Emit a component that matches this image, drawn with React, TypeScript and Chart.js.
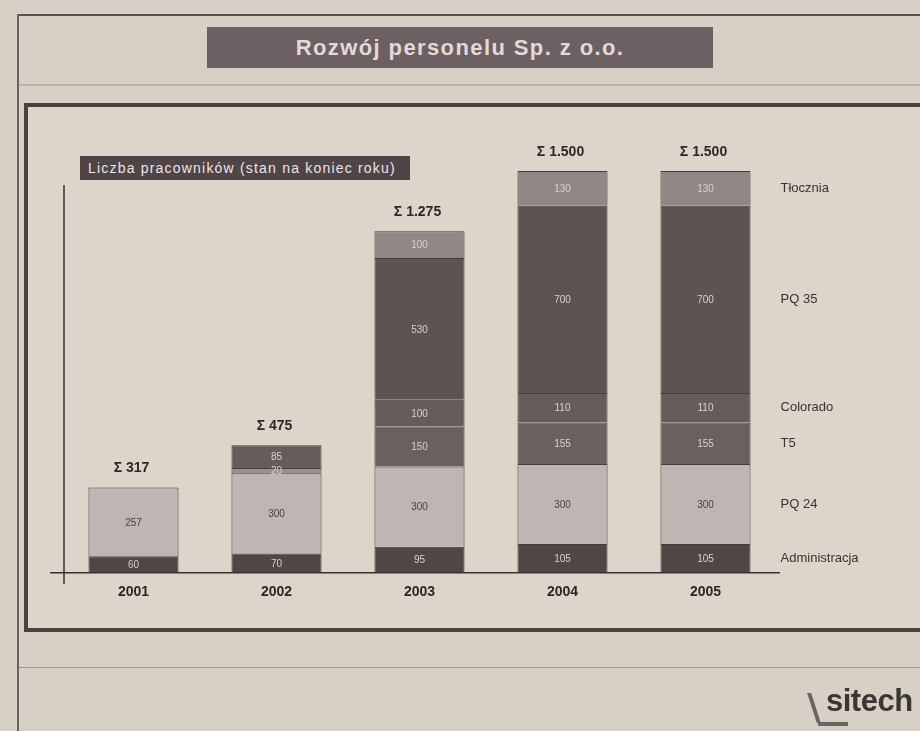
import React, { useEffect, useRef } from "react";
import { Chart, registerables } from "chart.js";

Chart.register(...registerables);

const years = ["2001", "2002", "2003", "2004", "2005"];
const administracja = [60, 70, 95, 105, 105];
const pq24 = [257, 300, 300, 300, 300];
const t5 = [0, 20, 150, 155, 155];
const colorado = [0, 85, 100, 110, 110];
const pq35 = [0, 0, 530, 700, 700];
const tlocznia = [0, 0, 100, 130, 130];

const seriesNames = ["Administracja", "PQ 24", "T5", "Colorado", "PQ 35", "Tłocznia"];

const FONT = "'Liberation Sans', Arial, sans-serif";
const BG = "#d7d1c5";
const INNER = "#dbd5ca";

function fmt(n: number): string {
  const s = String(n);
  return s.length > 3 ? s.slice(0, s.length - 3) + "." + s.slice(-3) : s;
}

const labelPlugin = {
  id: "labels",
  afterDatasetsDraw(chart: any) {
    const ctx = chart.ctx;
    const area = chart.chartArea;
    const ys = chart.scales.y;
    ctx.save();
    // axis lines
    ctx.strokeStyle = "#3a3132";
    ctx.lineWidth = 1.5;
    ctx.beginPath();
    ctx.moveTo(area.left + 2, area.top + 14);
    ctx.lineTo(area.left + 2, area.bottom + 12);
    ctx.moveTo(area.left - 12, area.bottom + 0.5);
    ctx.lineTo(area.right + 3, area.bottom + 0.5);
    ctx.stroke();

    const n = chart.data.labels.length;
    // segment labels
    chart.data.datasets.forEach((ds: any, di: number) => {
      const meta = chart.getDatasetMeta(di);
      meta.data.forEach((bar: any, j: number) => {
        const v = ds.data[j];
        if (!v) return;
        const cy = (bar.y + bar.base) / 2;
        ctx.font = `10px ${FONT}`;
        ctx.textAlign = "center";
        ctx.textBaseline = "middle";
        ctx.fillStyle = di === 1 ? "#4a4041" : "#d9d1d0";
        ctx.fillText(String(v), bar.x, cy + 1);
        if (j === n - 1) {
          ctx.font = `13px ${FONT}`;
          ctx.textAlign = "left";
          ctx.fillStyle = "#3a3132";
          ctx.fillText(ds.label, bar.x + bar.width / 2 + 30, cy);
        }
      });
    });
    // totals
    for (let j = 0; j < n; j++) {
      let total = 0;
      chart.data.datasets.forEach((ds: any) => (total += ds.data[j] || 0));
      const x = chart.getDatasetMeta(0).data[j].x;
      const y = ys.getPixelForValue(total);
      ctx.font = `bold 14px ${FONT}`;
      ctx.textAlign = "center";
      ctx.textBaseline = "middle";
      ctx.fillStyle = "#2e2627";
      ctx.fillText("Σ " + fmt(total), x - 2, y - 19);
    }
    ctx.restore();
  },
};

export default function App() {
  const ref = useRef<HTMLCanvasElement | null>(null);
  useEffect(() => {
    if (!ref.current) return;
    const common = { barPercentage: 0.63, categoryPercentage: 1, borderColor: "#473c3d", borderWidth: 1 };
    const chart = new Chart(ref.current, {
      type: "bar",
      data: {
        labels: years,
        datasets: [
          { label: seriesNames[0], data: administracja, backgroundColor: "#514546", ...common },
          { label: seriesNames[1], data: pq24, backgroundColor: "#beb6b2", ...common },
          { label: seriesNames[2], data: t5, backgroundColor: ["#6c5f60", "#9a908f", "#6c5f60", "#6c5f60", "#6c5f60"], ...common },
          { label: seriesNames[3], data: colorado, backgroundColor: "#685b5c", ...common },
          { label: seriesNames[4], data: pq35, backgroundColor: "#5e5253", ...common },
          { label: seriesNames[5], data: tlocznia, backgroundColor: "#928787", ...common },
        ],
      },
      options: {
        responsive: false,
        animation: false,
        layout: { padding: { left: 62, right: 143, top: 171, bottom: 118 } },
        plugins: { legend: { display: false }, tooltip: { enabled: false } },
        scales: {
          x: {
            stacked: true,
            grid: { display: false, drawTicks: false },
            border: { display: false },
            ticks: { padding: 12, color: "#2e2627", font: { family: FONT, size: 14, weight: "bold" } },
          },
          y: { stacked: true, display: false, min: 0, max: 1500 },
        },
      },
      plugins: [labelPlugin],
    } as any);
    return () => chart.destroy();
  }, []);

  return (
    <div style={{ position: "absolute", left: 0, top: 0, width: 920, height: 731, background: BG, overflow: "hidden", fontFamily: FONT }}>
      {/* outer lines */}
      <div style={{ position: "absolute", left: 18, top: 14, width: 910, height: 0, borderTop: "2px solid #5a5152" }} />
      <div style={{ position: "absolute", left: 17, top: 14, width: 0, height: 720, borderLeft: "2px solid #6a6162" }} />
      <div style={{ position: "absolute", left: 19, top: 84, width: 905, height: 0, borderTop: "2px solid #b9b2a7" }} />
      <div style={{ position: "absolute", left: 19, top: 667, width: 905, height: 0, borderTop: "1px solid #9f978c" }} />
      {/* title */}
      <div style={{ position: "absolute", left: 207, top: 27, width: 506, height: 41, background: "#6c6062", color: "#e2dad8", fontSize: 22, fontWeight: "bold", letterSpacing: 1.4, lineHeight: "41px", textAlign: "center" }}>
        Rozwój personelu Sp. z o.o.
      </div>
      {/* frame */}
      <div style={{ position: "absolute", left: 24, top: 103, width: 920, height: 521, border: "4px solid #4b4042", background: INNER }} />
      {/* subtitle box */}
      <div style={{ position: "absolute", left: 80, top: 156, width: 330, height: 24, background: "#4f4446", color: "#ece6e6", fontSize: 14, letterSpacing: 1.2, lineHeight: "24px", paddingLeft: 8, boxSizing: "border-box", whiteSpace: "nowrap", overflow: "hidden" }}>
        Liczba pracowników (stan na koniec roku)
      </div>
      <canvas ref={ref} width={920} height={731} style={{ position: "absolute", left: 0, top: 0, width: 920, height: 731 }} />
      {/* logo */}
      <div style={{ position: "absolute", left: 812, top: 693, width: 4, height: 30, background: "#6b6364", transform: "skewX(18deg)" }} />
      <div style={{ position: "absolute", left: 818, top: 722, width: 30, height: 4, background: "#6b6364" }} />
      <div style={{ position: "absolute", left: 826, top: 683, color: "#3b3536", fontSize: 31, fontWeight: "bold", letterSpacing: -0.5 }}>
        sitech
      </div>
    </div>
  );
}
